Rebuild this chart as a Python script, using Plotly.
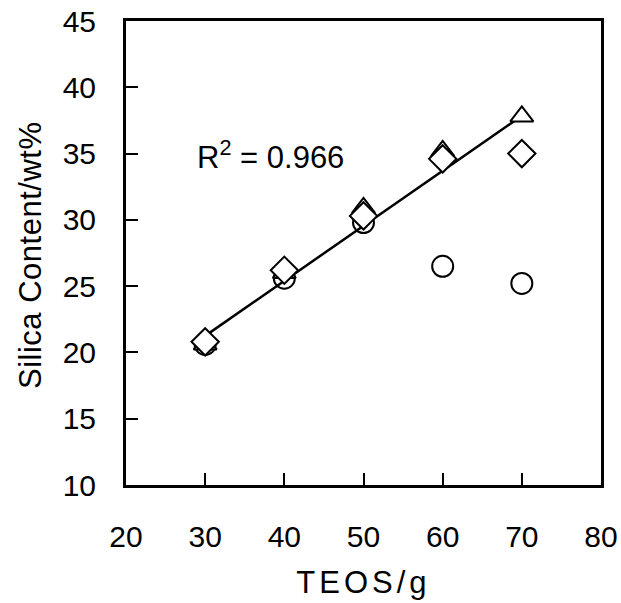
import plotly.graph_objects as go

# TEOS charge (g) and silica content (wt%) for the three sample series
teos = [30, 40, 50, 60, 70]
silica_circle = [20.6, 25.6, 29.8, 26.5, 25.2]
silica_triangle = [20.6, 26.0, 30.9, 35.2, 37.8]
silica_diamond = [20.8, 26.2, 30.3, 34.6, 35.0]

# linear trend line (silica = slope * TEOS + intercept)
trend_slope = 0.415
trend_intercept = 8.8
trend_x = [30, 70]
trend_y = [trend_slope * x + trend_intercept for x in trend_x]
r_squared = "0.966"

x_ticks = [20, 30, 40, 50, 60, 70, 80]
y_ticks = [10, 15, 20, 25, 30, 35, 40, 45]
x_range = [20, 80]
y_range = [10, 45]

FONT = "Liberation Sans, Arial, sans-serif"
FS = 30

W, H = 621, 603
M_L, M_R, M_T, M_B = 96, 20, 21, 118
FRAME_LEFT = 126  # pixel position of the left frame edge
x_dom_start = (FRAME_LEFT - M_L) / (W - M_L - M_R)

fig = go.Figure()

fig.add_trace(go.Scatter(
    x=trend_x, y=trend_y, mode="lines",
    line=dict(color="black", width=2.5), showlegend=False))

fig.add_trace(go.Scatter(
    x=teos, y=silica_circle, mode="markers",
    marker=dict(symbol="circle-open", size=21, color="black",
                line=dict(color="black", width=2)),
    showlegend=False))

fig.add_trace(go.Scatter(
    x=teos, y=silica_triangle, mode="markers",
    marker=dict(symbol="triangle-up", size=20, color="white",
                line=dict(color="black", width=2)),
    showlegend=False))

fig.add_trace(go.Scatter(
    x=teos, y=silica_diamond, mode="markers",
    marker=dict(symbol="diamond", size=21, color="white",
                line=dict(color="black", width=2)),
    showlegend=False))

# invisible trace so the label-only y axis is drawn
fig.add_trace(go.Scatter(
    x=[None], y=[None], yaxis="y2", mode="markers",
    showlegend=False, hoverinfo="skip"))

fig.add_annotation(
    x=28.7, y=34.9, xref="x", yref="y", xanchor="left", yanchor="middle",
    text="R<sup>2</sup> = " + r_squared, showarrow=False,
    font=dict(family=FONT, size=31, color="black"))

# y-axis title
fig.add_annotation(
    x=0, y=0.5, xref="paper", yref="paper", xanchor="center",
    yanchor="middle", xshift=30 - M_L, yshift=-3, textangle=-90,
    text='<span style="letter-spacing:0.5px">Silica Content/wt%</span>',
    showarrow=False, font=dict(family=FONT, size=31, color="black"))

axis_common = dict(
    showgrid=False, zeroline=False, showline=True, linecolor="black",
    linewidth=3, mirror=True, ticks="inside", ticklen=12, tickwidth=2,
    tickcolor="black", tickfont=dict(family=FONT, size=FS, color="black"),
    automargin=False)

fig.update_layout(
    xaxis=dict(
        range=x_range, tickvals=x_ticks, ticklabelstandoff=23,
        domain=[x_dom_start, 1],
        title=dict(text='<span style="letter-spacing:4px">TEOS/g</span>',
                   font=dict(family=FONT, size=31, color="black"),
                   standoff=20),
        **axis_common),
    yaxis=dict(
        range=y_range, tickvals=y_ticks, showticklabels=False,
        **axis_common),
    # tick labels for the y axis, set a little further out from the frame
    yaxis2=dict(
        range=y_range, tickvals=y_ticks, overlaying="y", anchor="free",
        position=0, side="left", showline=False, ticks="", showgrid=False,
        zeroline=False, automargin=False,
        tickfont=dict(family=FONT, size=FS, color="black")),
    width=W, height=H,
    margin=dict(l=M_L, r=M_R, t=M_T, b=M_B),
    plot_bgcolor="white", paper_bgcolor="white",
    font=dict(family=FONT, color="black"))

fig.write_html("out.html")
